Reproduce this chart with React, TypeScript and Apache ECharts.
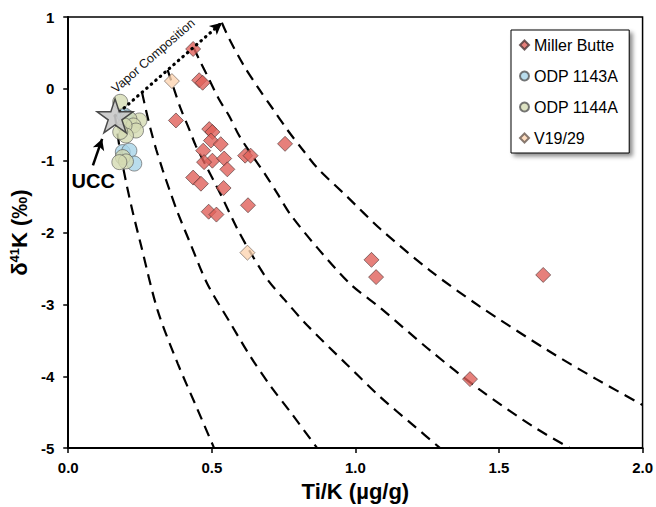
import React, { useEffect, useRef } from "react";
import * as echarts from "echarts";

// Ti/K (µg/g) vs δ41K (‰) samples
const millerButte: [number, number][] = [
  [0.435, 0.555], [0.456, 0.12], [0.468, 0.085], [0.375, -0.44],
  [0.491, -0.56], [0.502, -0.6], [0.497, -0.72], [0.531, -0.77],
  [0.47, -0.86], [0.502, -1.0], [0.473, -1.02], [0.543, -0.97],
  [0.554, -1.12], [0.616, -0.93], [0.635, -0.93], [0.755, -0.765],
  [0.435, -1.235], [0.462, -1.32], [0.541, -1.38], [0.626, -1.62],
  [0.489, -1.71], [0.516, -1.75], [1.056, -2.38], [1.072, -2.62],
  [1.654, -2.59], [1.399, -4.04],
];
const odp1143A: [number, number][] = [
  [0.196, -0.37], [0.207, -0.4], [0.19, -0.88], [0.213, -0.86], [0.23, -1.04],
];
const odp1144A: [number, number][] = [
  [0.181, -0.18], [0.248, -0.44], [0.213, -0.42], [0.227, -0.51],
  [0.236, -0.58], [0.196, -0.51], [0.201, -0.65], [0.181, -0.6],
  [0.19, -0.95], [0.201, -1.01], [0.178, -1.02],
];
const v1929: [number, number][] = [
  [0.361, 0.108], [0.624, -2.28],
];

// Upper continental crust reference and the vapor composition trend
const uccPoint: [number, number] = [0.163, -0.376];
const vaporEnd: [number, number] = [0.535, 0.921];
const uccArrow: [[number, number], [number, number]] = [[0.086, -1.065], [0.118, -0.697]];

// Fractionation trajectories (dashed)
const curve1: [number, number][] = [
  [0.163, -0.376], [0.18, -0.85], [0.201, -1.29], [0.225, -1.72], [0.253, -2.17],
  [0.311, -3.08], [0.381, -3.82], [0.45, -4.46], [0.508, -5.0],
];
const curve2: [number, number][] = [
  [0.257, -0.05], [0.271, -0.3], [0.288, -0.58], [0.306, -0.84], [0.329, -1.13],
  [0.352, -1.4], [0.381, -1.72], [0.427, -2.17], [0.485, -2.72], [0.566, -3.27],
  [0.635, -3.73], [0.705, -4.14], [0.774, -4.5], [0.867, -5.0],
];
const curve3: [number, number][] = [
  [0.346, 0.263], [0.369, -0.01], [0.392, -0.28], [0.421, -0.56], [0.444, -0.79],
  [0.479, -1.065], [0.508, -1.29], [0.537, -1.52], [0.589, -1.95], [0.635, -2.28],
  [0.693, -2.65], [0.75, -2.92], [0.832, -3.29], [0.971, -3.84], [1.087, -4.29],
  [1.201, -4.68], [1.295, -5.0],
];
const curve4: [number, number][] = [
  [0.437, 0.57], [0.456, 0.41], [0.491, 0.13], [0.525, -0.145], [0.56, -0.375],
  [0.595, -0.65], [0.641, -0.93], [0.6875, -1.2], [0.728, -1.455], [0.774, -1.75],
  [0.867, -2.21], [0.983, -2.72], [1.087, -3.05], [1.26, -3.64], [1.434, -4.19],
  [1.619, -4.7], [1.747, -5.0],
];
const curve5: [number, number][] = [
  [0.535, 0.92], [0.56, 0.7], [0.612, 0.32], [0.664, 0.0], [0.711, -0.27],
  [0.763, -0.57], [0.815, -0.84], [0.867, -1.1], [0.971, -1.5], [1.087, -1.95],
  [1.26, -2.53], [1.434, -3.03], [1.666, -3.63], [1.839, -4.04], [2.0, -4.4],
];
const curves = [curve1, curve2, curve3, curve4, curve5];

// Annotation anchors (data coordinates)
const uccLabelAt: [number, number] = [0.087, -1.276];
const vaporLabelAt: [number, number] = [0.296, 0.46];

const FONT = '"Liberation Sans", Arial, sans-serif';
const STAR =
  "path://M0,-10L2.245,-3.09L9.511,-3.09L3.633,1.18L5.878,8.09L0,3.82L-5.878,8.09L-3.633,1.18L-9.511,-3.09L-2.245,-3.09Z";

export default function App() {
  const ref = useRef<HTMLDivElement>(null);

  useEffect(() => {
    if (!ref.current) return;
    const chart = echarts.init(ref.current, undefined, { renderer: "svg" });

    const dashed = curves.map((c) => ({
      type: "line",
      data: c,
      showSymbol: false,
      smooth: 0.3,
      silent: true,
      lineStyle: { color: "#000", width: 2.2, type: [11, 7] },
      z: 1,
    }));

    chart.setOption({
      animation: false,
      backgroundColor: "#fff",
      grid: {
        left: 67, right: 13, top: 17, bottom: 55,
        show: true, borderColor: "#000", borderWidth: 1.5,
      },
      legend: {
        orient: "vertical",
        left: 511,
        top: 30,
        itemWidth: 9,
        itemHeight: 9,
        itemGap: 15,
        padding: [7, 11, 7, 8],
        borderColor: "#000",
        borderWidth: 1,
        backgroundColor: "#fff",
        shadowColor: "rgba(0,0,0,0.45)",
        shadowBlur: 4,
        shadowOffsetX: 3,
        shadowOffsetY: 3,
        textStyle: { fontSize: 16, fontFamily: FONT, color: "#000", lineHeight: 16 },
        data: [
          { name: "Miller Butte", icon: "diamond" },
          { name: "ODP 1143A", icon: "circle" },
          { name: "ODP 1144A", icon: "circle" },
          { name: "V19/29", icon: "diamond" },
        ],
      },
      xAxis: {
        type: "value",
        min: 0,
        max: 2,
        interval: 0.5,
        name: "Ti/K (µg/g)",
        nameLocation: "middle",
        nameGap: 27,
        nameTextStyle: { fontSize: 22, fontWeight: "bold", fontFamily: FONT, color: "#000" },
        axisLine: { onZero: false, lineStyle: { color: "#000", width: 2 } },
        axisTick: { show: true, length: 5, lineStyle: { color: "#000", width: 1.5 } },
        axisLabel: {
          margin: 12, fontSize: 15, fontWeight: "bold", fontFamily: FONT, color: "#000",
          formatter: (v: number) => v.toFixed(1),
        },
        splitLine: { show: false },
      },
      yAxis: {
        type: "value",
        min: -5,
        max: 1,
        interval: 1,
        name: "{a|δ}{s|41}{a|K (‰)}",
        nameLocation: "middle",
        nameGap: 24,
        nameTextStyle: {
          fontFamily: FONT,
          color: "#000",
          rich: {
            a: { fontSize: 22, fontWeight: "bold", fontFamily: FONT, color: "#000" },
            s: { fontSize: 13, fontWeight: "bold", fontFamily: FONT, color: "#000", padding: [0, 0, 9, 0] },
          },
        },
        axisLine: { show: true, onZero: false, lineStyle: { color: "#000", width: 2 } },
        axisTick: { show: true, length: 5, lineStyle: { color: "#000", width: 1.5 } },
        axisLabel: { margin: 14, fontSize: 15, fontWeight: "bold", fontFamily: FONT, color: "#000" },
        splitLine: { show: false },
      },
      series: [
        ...dashed,
        {
          type: "line",
          name: "trend",
          data: [],
          silent: true,
          markLine: {
            silent: true,
            animation: false,
            label: { show: false },
            data: [
              [
                {
                  coord: uccPoint, symbol: "none",
                  lineStyle: { color: "#000", width: 3.2, type: [0.5, 5.5], cap: "round" },
                },
                { coord: vaporEnd, symbol: "arrow", symbolSize: [9, 12] },
              ],
              [
                {
                  coord: uccArrow[0], symbol: "none",
                  lineStyle: { color: "#000", width: 2.5, type: "solid" },
                },
                { coord: uccArrow[1], symbol: "arrow", symbolSize: [9, 11] },
              ],
            ],
          },
          z: 3,
        },
        {
          type: "scatter",
          name: "Miller Butte",
          data: millerButte,
          symbol: "diamond",
          symbolSize: 15,
          itemStyle: { color: "#e0605a", borderColor: "#4a3434", borderWidth: 0.8 },
          z: 4,
        },
        {
          type: "scatter",
          name: "ODP 1143A",
          data: odp1143A,
          symbol: "circle",
          symbolSize: 15,
          itemStyle: { color: "#a8d4e8", borderColor: "#555", borderWidth: 0.8 },
          z: 4,
        },
        {
          type: "scatter",
          name: "ODP 1144A",
          data: odp1144A,
          symbol: "circle",
          symbolSize: 15,
          itemStyle: { color: "#d5dbb3", borderColor: "#555", borderWidth: 0.8 },
          z: 4,
        },
        {
          type: "scatter",
          name: "V19/29",
          data: v1929,
          symbol: "diamond",
          symbolSize: 15,
          itemStyle: { color: "#fdd5b2", borderColor: "#6a5a50", borderWidth: 0.8 },
          z: 4,
        },
        {
          type: "scatter",
          name: "UCC",
          data: [uccPoint],
          symbol: STAR,
          symbolSize: [36, 34],
          itemStyle: { color: "#c9c9c9", borderColor: "#3a3a3a", borderWidth: 1.5, opacity: 0.9 },
          z: 5,
        },
      ],
    });

    const uccPx = chart.convertToPixel({ xAxisIndex: 0, yAxisIndex: 0 }, uccLabelAt) as number[];
    const vapPx = chart.convertToPixel({ xAxisIndex: 0, yAxisIndex: 0 }, vaporLabelAt) as number[];
    chart.setOption({
      graphic: [
        {
          type: "text",
          x: uccPx[0],
          y: uccPx[1],
          style: {
            text: "UCC",
            font: `bold 20px ${FONT}`,
            fill: "#000",
            align: "center",
            verticalAlign: "middle",
          },
          z: 10,
        },
        {
          type: "text",
          x: vapPx[0],
          y: vapPx[1],
          rotation: (41 * Math.PI) / 180,
          style: {
            text: "Vapor Composition",
            font: `12.5px ${FONT}`,
            fill: "#111",
            align: "center",
            verticalAlign: "middle",
          },
          z: 10,
        },
      ],
    });

    return () => chart.dispose();
  }, []);

  return (
    <div
      ref={ref}
      style={{ position: "absolute", left: 0, top: 0, width: 656, height: 507 }}
    />
  );
}
